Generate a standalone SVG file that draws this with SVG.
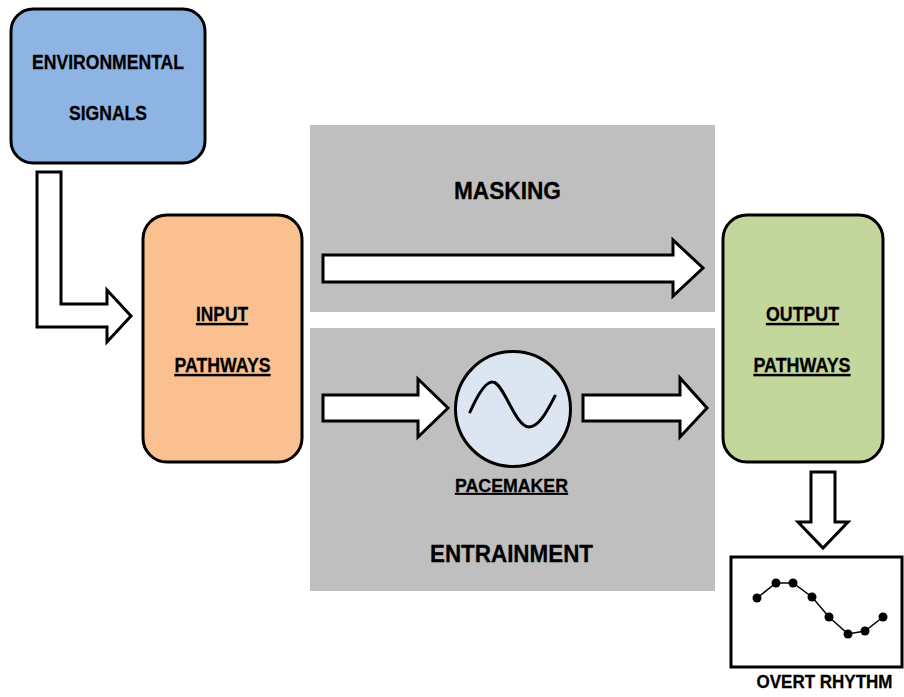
<svg xmlns="http://www.w3.org/2000/svg" width="904" height="697" viewBox="0 0 904 697">
<style>
.box{stroke:#000;stroke-width:3}
.arrow{fill:#fff;stroke:#000;stroke-width:3;stroke-linejoin:miter}
.panel{fill:#BFBFBF}
text{font-family:"Liberation Sans",Arial,sans-serif;font-weight:bold;fill:#000;text-anchor:middle;stroke:#000;stroke-width:0.3}
.lbl{font-size:21px}
.big{font-size:23.5px}
.u{text-decoration:underline}
</style>
<rect width="904" height="697" fill="#fff"/>
<g id="masking-panel">
<rect class="panel" x="310" y="125" width="405" height="187"/>
<text class="big" x="507.5" y="199" textLength="107" lengthAdjust="spacingAndGlyphs">MASKING</text>
</g>
<g id="entrainment-panel">
<rect class="panel" x="310" y="328" width="405" height="263"/>
<text class="big" x="511.5" y="562" textLength="163" lengthAdjust="spacingAndGlyphs">ENTRAINMENT</text>
</g>
<g id="environmental-signals">
<rect class="box" x="11" y="9" width="194" height="154" rx="22" fill="#8EB4E3"/>
<text class="lbl" x="108" y="69" textLength="152" lengthAdjust="spacingAndGlyphs">ENVIRONMENTAL</text>
<text class="lbl" x="108" y="120" textLength="78" lengthAdjust="spacingAndGlyphs">SIGNALS</text>
</g>
<g id="input-pathways">
<rect class="box" x="143" y="215" width="159" height="247" rx="24" fill="#FAC090"/>
<text class="lbl u" x="222" y="321" textLength="52" lengthAdjust="spacingAndGlyphs">INPUT</text>
<text class="lbl u" x="222.5" y="372" textLength="96" lengthAdjust="spacingAndGlyphs">PATHWAYS</text>
</g>
<g id="pacemaker">
<circle class="box" cx="513" cy="409" r="57.5" fill="#DCE6F2"/>
<path d="M470,412 C478,394 486,381 493,382 C504,383 515,427 529,427 C540,427 549,407 555,396" fill="none" stroke="#000" stroke-width="3" stroke-linecap="round"/>
<text class="u" x="511.5" y="492" font-size="18.5" textLength="113" lengthAdjust="spacingAndGlyphs">PACEMAKER</text>
</g>
<g id="output-pathways">
<rect class="box" x="723" y="215" width="160" height="247" rx="24" fill="#C3D69B"/>
<text class="lbl u" x="802.5" y="321" textLength="73" lengthAdjust="spacingAndGlyphs">OUTPUT</text>
<text class="lbl u" x="802" y="372" textLength="97" lengthAdjust="spacingAndGlyphs">PATHWAYS</text>
</g>
<g id="overt-rhythm">
<rect x="731" y="557" width="171" height="110" fill="#fff" stroke="#000" stroke-width="3"/>
<polyline points="757,598 776,583 793,583 812,597 829,617 848,634 865,631 883,617" fill="none" stroke="#000" stroke-width="1.5"/>
<g fill="#000">
<circle cx="757" cy="598" r="4.5"/><circle cx="776" cy="583" r="4.5"/><circle cx="793" cy="583" r="4.5"/><circle cx="812" cy="597" r="4.5"/>
<circle cx="829" cy="617" r="4.5"/><circle cx="848" cy="634" r="4.5"/><circle cx="865" cy="631" r="4.5"/><circle cx="883" cy="617" r="4.5"/>
</g>
<text x="824.5" y="688" font-size="19" textLength="136" lengthAdjust="spacingAndGlyphs">OVERT RHYTHM</text>
</g>
<g id="connectors">
<polygon class="arrow" points="37,172 61,172 61,304 107,304 107,290 131,316 107,342 107,327 37,327"/>
<polygon class="arrow" points="323,255 673,255 673,240 703,268 673,296 673,282 323,282"/>
<polygon class="arrow" points="323,395 418,395 418,379 448,408 418,437 418,421 323,421"/>
<polygon class="arrow" points="583,395 680,395 680,378 707,408 680,437 680,421 583,421"/>
<polygon class="arrow" points="811,472 835,472 835,522 848,522 823,548 798,522 811,522"/>
</g>
</svg>
